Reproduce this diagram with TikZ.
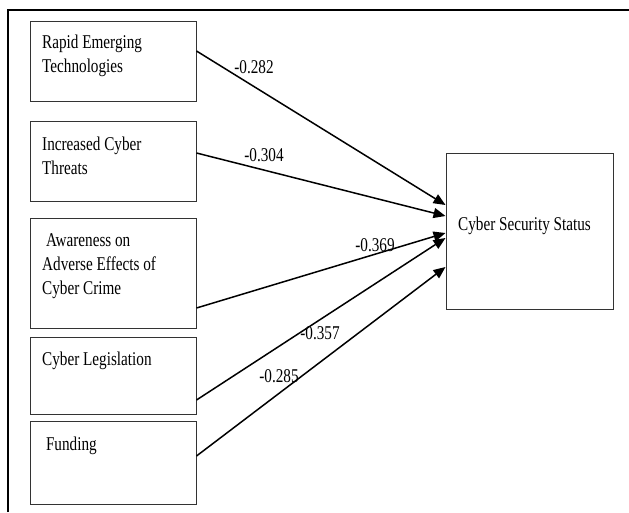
\documentclass[tikz,border=0pt]{standalone}
\usepackage{fontspec}
\setmainfont[FakeStretch=0.78]{Liberation Serif}
\usetikzlibrary{arrows.meta}
\begin{document}
\begin{tikzpicture}[x=1pt,y=-1pt,
  box/.style={draw=black!80,line width=1pt,rectangle,inner sep=0pt},
  txt/.style={anchor=base west,inner sep=0pt,font=\fontsize{19.5}{24}\selectfont},
  lbl/.style={inner sep=0pt,font=\fontsize{19.5}{24}\selectfont},
  arr/.style={line width=1.5pt,-{Triangle[length=12pt,width=10pt]}}]
\useasboundingbox (0,0) rectangle (629,512);
\fill[white] (0,0) rectangle (629,512);
% outer frame (right and bottom sides cut off)
\coordinate (fbl) at (8,512);
\coordinate (ftl) at (8,10);
\coordinate (ftr) at (629,10);
\draw[line width=1.5pt] (fbl) -- (ftl) -- (ftr);
% boxes
\node[box,minimum width=166pt,minimum height=80pt] (b1) at (113,61) {};
\node[box,minimum width=166pt,minimum height=80pt] (b2) at (113,161) {};
\node[box,minimum width=166pt,minimum height=110pt] (b3) at (113,273) {};
\node[box,minimum width=166pt,minimum height=77pt] (b4) at (113,375.5) {};
\node[box,minimum width=166pt,minimum height=83pt] (b5) at (113,462.5) {};
\node[box,minimum width=167pt,minimum height=156pt] (t) at (529.5,231) {};
% texts
\node[txt] (t1a) at (42,48) {Rapid Emerging};
\node[txt] (t1b) at (42,72) {Technologies};
\node[txt] (t2a) at (42,150) {Increased Cyber};
\node[txt] (t2b) at (42,174) {Threats};
\node[txt] (t3a) at (42,246) {\ Awareness on};
\node[txt] (t3b) at (42,270) {Adverse Effects of};
\node[txt] (t3c) at (42,294) {Cyber Crime};
\node[txt] (t4a) at (42,365) {Cyber Legislation};
\node[txt] (t5a) at (42,450) {\ Funding};
\node[txt] (tt) at (458,230) {Cyber Security Status};
% connectors
\draw[arr] ([yshift=10pt]b1.east) -- ([yshift=26pt]t.west);
\draw[arr] ([yshift=8pt]b2.east) -- ([yshift=15pt]t.west);
\draw[arr] ([yshift=-35pt]b3.east) -- ([yshift=-2pt]t.west);
\draw[arr] ([yshift=-24.5pt]b4.east) -- ([yshift=-7pt]t.west);
\draw[arr] ([yshift=6.5pt]b5.east) -- ([yshift=-36pt]t.west);
% labels
\node[lbl] (l1) at (254,67) {-0.282};
\node[lbl] (l2) at (264,155) {-0.304};
\node[lbl] (l3) at (375,245) {-0.369};
\node[lbl] (l4) at (320,333) {-0.357};
\node[lbl] (l5) at (279,376) {-0.285};
\end{tikzpicture}
\end{document}
